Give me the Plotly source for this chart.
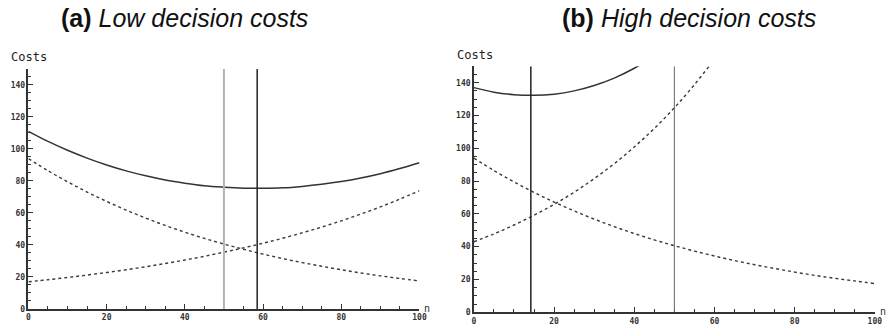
import plotly.graph_objects as go

# ---- data ----
n_left = [0, 5, 10, 15, 20, 25, 30, 35, 40, 45, 50, 55, 60, 65, 70, 75, 80, 85, 90, 95, 100]
left_total = [111.0, 104.7, 99.2, 94.3, 90.0, 86.3, 83.2, 80.6, 78.6, 77.0, 76.1, 75.5, 75.4, 75.7,
              76.6, 77.9, 79.6, 81.8, 84.5, 87.8, 91.4]
left_decreasing = [94.0, 86.4, 79.5, 73.1, 67.2, 61.8, 56.8, 52.2, 48.0, 44.1, 40.6, 37.3, 34.3, 31.5,
                   29.0, 26.7, 24.5, 22.5, 20.7, 19.1, 17.5]
left_increasing = [17.0, 18.3, 19.7, 21.2, 22.8, 24.5, 26.4, 28.4, 30.6, 32.9, 35.5, 38.2, 41.1, 44.2,
                   47.6, 51.2, 55.1, 59.3, 63.8, 68.7, 73.9]
left_vlines_gray = [50]
left_vlines_black = [58.5]

n_right = [0, 5, 10, 15, 20, 25, 30, 35, 40, 45, 50, 55, 60, 65, 70, 75, 80, 85, 90, 95, 100]
right_decreasing = [94.0, 86.4, 79.5, 73.1, 67.2, 61.8, 56.8, 52.2, 48.0, 44.1, 40.6, 37.3, 34.3, 31.5,
                    29.0, 26.7, 24.5, 22.5, 20.7, 19.1, 17.5]
n_right_inc = [0, 5, 10, 15, 20, 25, 30, 35, 40, 45, 50, 55, 60]
right_increasing = [43.0, 47.8, 53.2, 59.2, 65.8, 73.2, 81.5, 90.6, 100.8, 112.1, 124.7, 138.8, 154.3]
n_right_tot = [0, 5, 10, 15, 20, 25, 30, 35, 40, 45]
right_total = [137.0, 134.2, 132.7, 132.3, 133.0, 135.0, 138.3, 142.8, 148.8, 156.2]
right_vlines_black = [14.2]
right_vlines_gray = [50]

y_ticks = [0, 20, 40, 60, 80, 100, 120, 140]
x_ticks = [0, 20, 40, 60, 80, 100]

W, H = 895, 333
SOLID = "#333333"
DASHC = "#3a3a3a"
DASH = "3px,3px"

fig = go.Figure()

def add_curve(x, y, xa, ya, dashed):
    fig.add_trace(go.Scatter(
        x=x, y=y, xaxis=xa, yaxis=ya, mode="lines",
        line=dict(color=DASHC if dashed else SOLID, width=1.4 if dashed else 1.5,
                  dash=DASH if dashed else "solid", shape="spline", smoothing=1.0),
        showlegend=False, hoverinfo="skip"))

add_curve(n_left, left_total, "x", "y", False)
add_curve(n_left, left_decreasing, "x", "y", True)
add_curve(n_left, left_increasing, "x", "y", True)
add_curve(n_right_tot, right_total, "x2", "y2", False)
add_curve(n_right, right_decreasing, "x2", "y2", True)
add_curve(n_right_inc, right_increasing, "x2", "y2", True)

shapes = []
for v in left_vlines_gray:
    shapes.append(dict(type="line", xref="x", yref="y", x0=v, x1=v, y0=0, y1=150,
                       line=dict(color="#b3b3b3", width=2)))
for v in left_vlines_black:
    shapes.append(dict(type="line", xref="x", yref="y", x0=v, x1=v, y0=0, y1=150,
                       line=dict(color="#222222", width=1.5)))
for v in right_vlines_black:
    shapes.append(dict(type="line", xref="x2", yref="y2", x0=v, x1=v, y0=0, y1=150,
                       line=dict(color="#222222", width=1.5)))
for v in right_vlines_gray:
    shapes.append(dict(type="line", xref="x2", yref="y2", x0=v, x1=v, y0=0, y1=150,
                       line=dict(color="#666666", width=1)))

tickfont = dict(family="DejaVu Sans Mono", size=8, color="#333333", weight="bold")

def xaxis(dom, anchor):
    return dict(domain=dom, anchor=anchor, range=[0, 100], showgrid=False, zeroline=False,
                showline=True, linecolor="#333333", linewidth=1.5,
                ticks="inside", ticklen=5, tickwidth=1, tickcolor="#333333",
                tickvals=x_ticks, ticktext=[str(t) for t in x_ticks], tickfont=tickfont,
                minor=dict(ticks="inside", ticklen=3, tickcolor="#333333", dtick=5, tick0=0),
                fixedrange=True)

def yaxis(dom, anchor):
    return dict(domain=dom, anchor=anchor, range=[0, 150], showgrid=False, zeroline=False,
                showline=True, linecolor="#333333", linewidth=1.5,
                ticks="inside", ticklen=5, tickwidth=1, tickcolor="#333333",
                tickvals=y_ticks, ticktext=[str(t) for t in y_ticks], tickfont=tickfont,
                minor=dict(ticks="inside", ticklen=3, tickcolor="#333333", dtick=5, tick0=0),
                fixedrange=True)

lx0, lx1 = 26.7 / W, 421.7 / W
rx0, rx1 = 476.7 / W, 881.7 / W
ly0, ly1 = 1 - 313.7 / H, 1 - 70 / H
ry0, ry1 = 1 - 317 / H, 1 - 67.3 / H

annotations = [
    dict(text="<b>(a)</b> <i>Low decision costs</i>", x=184 / W, y=1 - 18 / H, xref="paper", yref="paper",
         xanchor="center", yanchor="middle", showarrow=False,
         font=dict(family="Liberation Sans", size=25, color="#111111")),
    dict(text="<b>(b)</b> <i>High decision costs</i>", x=694 / W, y=1 - 18 / H, xref="paper", yref="paper",
         xanchor="center", yanchor="middle", showarrow=False,
         font=dict(family="Liberation Sans", size=25, color="#111111")),
    dict(text="Costs", x=7 / W, y=1 - 58 / H, xref="paper", yref="paper", xanchor="left", yanchor="middle",
         showarrow=False, font=dict(family="DejaVu Sans Mono", size=12, color="#222222")),
    dict(text="Costs", x=458 / W, y=1 - 56 / H, xref="paper", yref="paper", xanchor="left", yanchor="middle",
         showarrow=False, font=dict(family="DejaVu Sans Mono", size=12, color="#222222")),
    dict(text="n", x=429 / W, y=1 - 313 / H, xref="paper", yref="paper", xanchor="center", yanchor="middle",
         showarrow=False, font=dict(family="DejaVu Sans Mono", size=10, color="#333333")),
    dict(text="n", x=890 / W, y=1 - 316 / H, xref="paper", yref="paper", xanchor="center", yanchor="middle",
         showarrow=False, font=dict(family="DejaVu Sans Mono", size=10, color="#333333")),
]

fig.update_layout(
    width=W, height=H, margin=dict(l=0, r=0, t=0, b=0),
    paper_bgcolor="white", plot_bgcolor="white",
    xaxis=xaxis([lx0, lx1], "y"), yaxis=yaxis([ly0, ly1], "x"),
    xaxis2=xaxis([rx0, rx1], "y2"), yaxis2=yaxis([ry0, ry1], "x2"),
    shapes=shapes, annotations=annotations, showlegend=False,
)

fig.write_html("out.html", config={"displayModeBar": False})
